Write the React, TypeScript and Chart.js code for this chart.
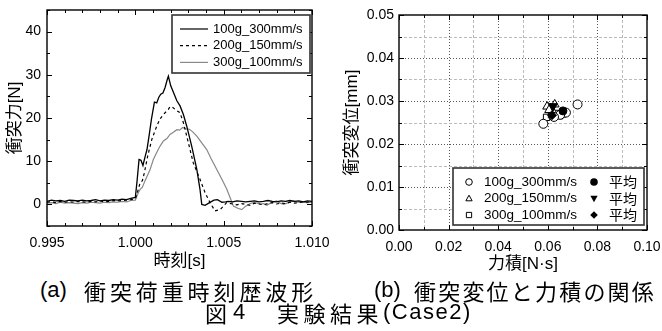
import React, { useEffect, useRef } from "react";
import { Chart, registerables } from "chart.js";

Chart.register(...registerables);

// ---------- (a) waveform data ----------
const t100 = [
  0.995, 0.99525, 0.9955, 0.99575, 0.996, 0.99625, 0.9965, 0.99675, 0.997, 0.99725,
  0.9975, 0.99775, 0.998, 0.99825, 0.9985, 0.99875, 0.999, 0.99925, 0.9995, 0.99975,
  1.0, 1.0001, 1.00021, 1.00032, 1.00043, 1.00055, 1.00066, 1.0008, 1.00091, 1.00108,
  1.00121, 1.00133, 1.00144, 1.00156, 1.00168, 1.0018, 1.00187, 1.002, 1.00216, 1.00235,
  1.00253, 1.00272, 1.00291, 1.00319, 1.00348, 1.00366, 1.00376, 1.00395, 1.0042, 1.00445,
  1.00465, 1.0049, 1.0051,
  1.00525, 1.0055, 1.00575, 1.006, 1.00625, 1.0065, 1.00675, 1.007, 1.00725, 1.0075,
  1.00775, 1.008, 1.00825, 1.0085, 1.00875, 1.009, 1.00925, 1.0095, 1.00975, 1.01,
];
const f100 = [
  0.7, 1.0, 0.8, 0.9, 0.7, 1.0, 0.9, 0.8, 1.0, 0.8,
  0.9, 1.1, 0.8, 1.0, 0.9, 1.1, 1.0, 1.2, 1.1, 1.4,
  1.6, 5.5, 10.4, 10.2, 9.0, 11.0, 12.7, 16.5, 19.7, 23.7,
  23.5, 24.8, 25.5, 25.8, 27.0, 28.8, 29.7, 27.5, 25.9, 24.0,
  22.8, 20.8, 18.1, 13.5, 8.1, 3.5, 0.0, -0.2, 0.4, 1.0,
  1.1, 0.5, 0.6,
  0.7, 0.6, 0.8, 0.7, 0.6, 0.7, 0.8, 0.6, 0.7, 0.9,
  0.7, 0.6, 0.8, 0.7, 0.9, 0.7, 0.8, 0.6, 0.8, 0.7,
];

const t200 = [
  0.995, 0.99525, 0.9955, 0.99575, 0.996, 0.99625, 0.9965, 0.99675, 0.997, 0.99725,
  0.9975, 0.99775, 0.998, 0.99825, 0.9985, 0.99875, 0.999, 0.99925, 0.9995, 0.99975,
  1.0, 1.0001, 1.00027, 1.0004, 1.00051, 1.0007, 1.00093, 1.00121, 1.0014, 1.00159,
  1.00175, 1.00187, 1.00196, 1.0021, 1.00225, 1.00253, 1.00272, 1.003, 1.00328, 1.00366,
  1.00395, 1.00423, 1.00451, 1.0048, 1.00517,
  1.0055, 1.00575, 1.006, 1.00625, 1.0065, 1.00675, 1.007, 1.00725, 1.0075, 1.00775,
  1.008, 1.00825, 1.0085, 1.00875, 1.009, 1.00925, 1.0095, 1.00975, 1.01,
];
const f200 = [
  0.5, 0.6, 0.4, 0.7, 0.5, 0.6, 0.5, 0.7, 0.6, 0.5,
  0.7, 0.6, 0.8, 0.6, 0.7, 0.9, 0.8, 0.9, 1.0, 1.1,
  1.3, 2.5, 5.0, 5.5, 7.3, 11.2, 15.0, 18.1, 19.8, 20.8,
  21.5, 22.0, 22.6, 22.5, 22.0, 21.2, 18.9, 14.3, 9.6, 5.8,
  2.7, 0.4, -1.5, -1.2, 0.4,
  0.1, -0.1, 0.2, 0.0, -0.2, 0.3, 0.1, -0.1, 0.2, 0.4,
  0.1, 0.3, 0.2, 0.5, 0.3, 0.4, 0.6, 0.5, 0.6,
];

const t300 = [
  0.995, 0.99525, 0.9955, 0.99575, 0.996, 0.99625, 0.9965, 0.99675, 0.997, 0.99725,
  0.9975, 0.99775, 0.998, 0.99825, 0.9985, 0.99875, 0.999, 0.99925, 0.9995, 0.99975,
  1.0, 1.00015, 1.00027, 1.0004, 1.00055, 1.00083, 1.00102, 1.00121, 1.0014, 1.00159,
  1.0018, 1.00196, 1.00215, 1.00235, 1.0025, 1.00268, 1.00285, 1.00306, 1.00325, 1.00348,
  1.00375, 1.00404, 1.0043, 1.00461, 1.0049, 1.00518, 1.0054, 1.00555, 1.0058, 1.00602,
  1.00625, 1.0065, 1.00668, 1.0069, 1.0071, 1.00725, 1.00744, 1.0077, 1.008, 1.0082,
  1.0084, 1.00865, 1.00895, 1.0092, 1.00945, 1.0097, 1.01,
];
const f300 = [
  0.3, 0.4, 0.2, 0.5, 0.3, 0.4, 0.3, 0.2, 0.4, 0.3,
  0.5, 0.4, 0.3, 0.5, 0.4, 0.6, 0.5, 0.7, 0.6, 0.9,
  1.0, 2.5, 3.5, 4.0, 5.5, 8.0, 10.4, 12.0, 13.5, 14.7,
  15.3, 16.2, 16.7, 17.3, 17.2, 17.8, 17.5, 17.4, 16.8, 15.8,
  14.3, 12.7, 10.5, 8.1, 5.8, 3.5, 1.2, -0.4, -0.9, -1.2,
  -0.4, 0.2, 0.4, 0.3, 0.1, 0.2, -0.2, 0.4, 0.8, 0.3,
  0.0, 0.4, 0.8, 0.5, 0.6, 0.4, 0.5,
];

const seriesLabelsA = ["100g_300mm/s", "200g_150mm/s", "300g_100mm/s"];
const xTicksA = [0.995, 1.0, 1.005, 1.01];
const yTicksA = [0, 10, 20, 30, 40];

// ---------- (b) scatter data ----------
const imp100 = [0.0582, 0.072, 0.0673, 0.065, 0.0625];
const disp100 = [0.0247, 0.0292, 0.0273, 0.0268, 0.0263];
const imp200 = [0.0597, 0.0628, 0.0612, 0.062, 0.0605];
const disp200 = [0.0287, 0.0292, 0.0283, 0.0276, 0.0279];
const imp300 = [0.0595, 0.0615, 0.0633, 0.0648, 0.066];
const disp300 = [0.0262, 0.0268, 0.0271, 0.0266, 0.027];
const meanImp = [0.0661, 0.0621, 0.0617];
const meanDisp = [0.0277, 0.0288, 0.0267];
const seriesLabelsB = ["100g_300mm/s", "200g_150mm/s", "300g_100mm/s"];
const meanLabel = "平均";
const xTicksB = [0, 0.02, 0.04, 0.06, 0.08, 0.1];
const yTicksB = [0, 0.01, 0.02, 0.03, 0.04, 0.05];

const LATIN = "'Liberation Sans', Arial, sans-serif";
const MIXED = "'Liberation Sans', 'Noto Sans CJK JP', sans-serif";

const pts = (xs: number[], ys: number[]) => xs.map((x, i) => ({ x, y: ys[i] }));

function drawSymbol(ctx: CanvasRenderingContext2D, kind: string, x: number, y: number, r: number, filled: boolean) {
  ctx.beginPath();
  if (kind === "circle") {
    ctx.arc(x, y, r, 0, Math.PI * 2);
  } else if (kind === "triUp") {
    ctx.moveTo(x, y - r);
    ctx.lineTo(x + r * 0.95, y + r * 0.7);
    ctx.lineTo(x - r * 0.95, y + r * 0.7);
    ctx.closePath();
  } else if (kind === "triDown") {
    ctx.moveTo(x, y + r);
    ctx.lineTo(x + r * 0.95, y - r * 0.7);
    ctx.lineTo(x - r * 0.95, y - r * 0.7);
    ctx.closePath();
  } else if (kind === "square") {
    ctx.rect(x - r * 0.8, y - r * 0.8, r * 1.6, r * 1.6);
  } else if (kind === "diamond") {
    ctx.moveTo(x, y - r);
    ctx.lineTo(x + r, y);
    ctx.lineTo(x, y + r);
    ctx.lineTo(x - r, y);
    ctx.closePath();
  }
  if (filled) {
    ctx.fillStyle = "#000";
    ctx.fill();
  } else {
    ctx.fillStyle = "#fff";
    ctx.fill();
    ctx.strokeStyle = "#000";
    ctx.lineWidth = 1;
    ctx.stroke();
  }
}

const zeroPadX = (h: number) => (s: any) => { s.height = h; s.paddingLeft = 0; s.paddingRight = 0; };
const zeroPadY = (w: number) => (s: any) => { s.width = w; s.paddingTop = 0; s.paddingBottom = 0; };

const decorA = {
  id: "decorA",
  afterDatasetsDraw(chart: any) {
    const { ctx, chartArea: a, scales } = chart;
    const x = scales.x;
    const y = scales.y;
    ctx.save();
    ctx.strokeStyle = "#000";
    ctx.lineWidth = 1;
    for (let i = 0; i <= 15; i++) {
      const v = 0.995 + i * 0.001;
      const px = Math.round(x.getPixelForValue(v)) + 0.5;
      const len = i % 5 === 0 ? 5 : 3;
      ctx.beginPath();
      ctx.moveTo(px, a.bottom);
      ctx.lineTo(px, a.bottom - len);
      ctx.moveTo(px, a.top);
      ctx.lineTo(px, a.top + len);
      ctx.stroke();
    }
    for (let i = 0; i <= 10; i++) {
      const v = -5 + i * 5;
      const py = Math.round(y.getPixelForValue(v)) + 0.5;
      const len = v % 10 === 0 ? 5 : 3;
      ctx.beginPath();
      ctx.moveTo(a.left, py);
      ctx.lineTo(a.left + len, py);
      ctx.moveTo(a.right, py);
      ctx.lineTo(a.right - len, py);
      ctx.stroke();
    }
    ctx.lineWidth = 1.4;
    ctx.strokeRect(a.left, a.top, a.right - a.left, a.bottom - a.top);
    // legend
    const lx = a.left + 125;
    const ly = a.top + 5;
    const lw = a.right - 2 - lx;
    const lh = 58;
    ctx.fillStyle = "#fff";
    ctx.fillRect(lx, ly, lw, lh);
    ctx.strokeStyle = "#333";
    ctx.lineWidth = 1.6;
    ctx.strokeRect(lx, ly, lw, lh);
    const styles = [
      { c: "#000", d: [] as number[] },
      { c: "#000", d: [3, 3] },
      { c: "#888", d: [] as number[] },
    ];
    ctx.font = `13px ${LATIN}`;
    ctx.textBaseline = "middle";
    seriesLabelsA.forEach((lab, i) => {
      const yy = ly + 14 + i * 16.7;
      ctx.beginPath();
      ctx.setLineDash(styles[i].d);
      ctx.strokeStyle = styles[i].c;
      ctx.lineWidth = 1.2;
      ctx.moveTo(lx + 8, yy);
      ctx.lineTo(lx + 36, yy);
      ctx.stroke();
      ctx.setLineDash([]);
      ctx.fillStyle = "#000";
      ctx.fillText(lab, lx + 41, yy);
    });
    ctx.restore();
  },
};

const gridB = {
  id: "gridB",
  beforeDatasetsDraw(chart: any) {
    const { ctx, chartArea: a, scales } = chart;
    const x = scales.x;
    const y = scales.y;
    ctx.save();
    ctx.lineWidth = 1;
    for (let i = 1; i < 10; i++) {
      const px = Math.round(x.getPixelForValue(i * 0.01)) + 0.5;
      const major = i % 2 === 0;
      ctx.strokeStyle = major ? "#555" : "#bbb";
      ctx.setLineDash(major ? [1, 2] : [3, 2]);
      ctx.beginPath();
      ctx.moveTo(px, a.top);
      ctx.lineTo(px, a.bottom);
      ctx.stroke();
    }
    for (let i = 1; i < 10; i++) {
      const py = Math.round(y.getPixelForValue(i * 0.005)) + 0.5;
      const major = i % 2 === 0;
      ctx.strokeStyle = major ? "#555" : "#bbb";
      ctx.setLineDash(major ? [1, 2] : [3, 2]);
      ctx.beginPath();
      ctx.moveTo(a.left, py);
      ctx.lineTo(a.right, py);
      ctx.stroke();
    }
    ctx.setLineDash([]);
    ctx.restore();
  },
  afterDatasetsDraw(chart: any) {
    const { ctx, chartArea: a, scales } = chart;
    const x = scales.x;
    const y = scales.y;
    ctx.save();
    ctx.strokeStyle = "#000";
    ctx.lineWidth = 1;
    for (let i = 0; i <= 10; i++) {
      const px = Math.round(x.getPixelForValue(i * 0.01)) + 0.5;
      const len = i % 2 === 0 ? 5 : 3;
      ctx.beginPath();
      ctx.moveTo(px, a.bottom);
      ctx.lineTo(px, a.bottom - len);
      ctx.moveTo(px, a.top);
      ctx.lineTo(px, a.top + len);
      ctx.stroke();
    }
    for (let i = 0; i <= 10; i++) {
      const py = Math.round(y.getPixelForValue(i * 0.005)) + 0.5;
      const len = i % 2 === 0 ? 5 : 3;
      ctx.beginPath();
      ctx.moveTo(a.left, py);
      ctx.lineTo(a.left + len, py);
      ctx.moveTo(a.right, py);
      ctx.lineTo(a.right - len, py);
      ctx.stroke();
    }
    // legend
    const lx = a.left + 54;
    const ly = a.top + 153;
    const lw = a.right - 3 - lx;
    const lh = a.bottom - 5 - ly;
    ctx.fillStyle = "#fff";
    ctx.fillRect(lx, ly, lw, lh);
    ctx.strokeStyle = "#333";
    ctx.lineWidth = 1.6;
    ctx.strokeRect(lx, ly, lw, lh);
    const openK = ["circle", "triUp", "square"];
    const fillK = ["circle", "triDown", "diamond"];
    ctx.textBaseline = "middle";
    seriesLabelsB.forEach((lab, i) => {
      const yy = ly + 14 + i * 16.5;
      drawSymbol(ctx, openK[i], lx + 16, yy, 3.3, false);
      ctx.fillStyle = "#000";
      ctx.font = `13.5px ${LATIN}`;
      ctx.fillText(lab, lx + 31, yy);
      drawSymbol(ctx, fillK[i], lx + 141, yy, 3.8, true);
      ctx.fillStyle = "#000";
      ctx.font = `14px 'Noto Sans CJK JP', sans-serif`;
      ctx.fillText(meanLabel, lx + 156, yy);
    });
    ctx.strokeStyle = "#000";
    ctx.lineWidth = 1.4;
    ctx.strokeRect(a.left, a.top, a.right - a.left, a.bottom - a.top);
    ctx.restore();
  },
};

function ChartA() {
  const ref = useRef<HTMLCanvasElement>(null);
  useEffect(() => {
    if (!ref.current) return;
    const chart = new Chart(ref.current, {
      type: "line",
      data: {
        datasets: [
          { label: seriesLabelsA[0], data: pts(t100, f100), borderColor: "#000", borderWidth: 1.3, pointRadius: 0, tension: 0 },
          { label: seriesLabelsA[1], data: pts(t200, f200), borderColor: "#000", borderWidth: 1.2, borderDash: [3, 3], pointRadius: 0, tension: 0 },
          { label: seriesLabelsA[2], data: pts(t300, f300), borderColor: "#888", borderWidth: 1.2, pointRadius: 0, tension: 0 },
        ],
      },
      options: {
        animation: false,
        responsive: false,
        maintainAspectRatio: false,
        layout: { padding: { top: 10, right: 19, left: 0, bottom: 0 } },
        plugins: { legend: { display: false }, tooltip: { enabled: false } },
        scales: {
          x: {
            type: "linear",
            min: 0.995,
            max: 1.01,
            afterBuildTicks: (s: any) => { s.ticks = xTicksA.map((v) => ({ value: v })); },
            afterFit: zeroPadX(48),
            grid: { display: false, drawTicks: false },
            border: { display: false },
            ticks: {
              autoSkip: false, maxRotation: 0, padding: 9, color: "#000",
              font: { size: 14, family: LATIN },
              callback: (v: any) => Number(v).toFixed(3),
            },
            title: { display: true, text: "時刻[s]", color: "#000", font: { size: 17, family: MIXED }, padding: { top: 0, bottom: 2.3 } },
          },
          y: {
            type: "linear",
            min: -5,
            max: 45,
            afterBuildTicks: (s: any) => { s.ticks = yTicksA.map((v) => ({ value: v })); },
            afterFit: zeroPadY(47),
            grid: { display: false, drawTicks: false },
            border: { display: false },
            ticks: { padding: 6, color: "#000", font: { size: 14, family: LATIN }, callback: (v: any) => String(v) },
            title: { display: true, text: "衝突力[N]", color: "#000", font: { size: 17, family: MIXED }, padding: { top: 5.3, bottom: 0 } },
          },
        },
      },
      plugins: [decorA],
    } as any);
    return () => chart.destroy();
  }, []);
  return <canvas ref={ref} width={331} height={274} style={{ position: "absolute", left: 0, top: 0, width: 331, height: 274 }} />;
}

function ChartB() {
  const ref = useRef<HTMLCanvasElement>(null);
  useEffect(() => {
    if (!ref.current) return;
    const base = { borderColor: "#000", borderWidth: 1 };
    const chart = new Chart(ref.current, {
      type: "scatter",
      data: {
        datasets: [
          { ...base, label: meanLabel, data: [{ x: meanImp[0], y: meanDisp[0] }], pointStyle: "circle", pointRadius: 4, backgroundColor: "#000" },
          { ...base, label: meanLabel, data: [{ x: meanImp[1], y: meanDisp[1] }], pointStyle: "triangle", rotation: 180, pointRadius: 5, backgroundColor: "#000" },
          { ...base, label: meanLabel, data: [{ x: meanImp[2], y: meanDisp[2] }], pointStyle: "rectRot", pointRadius: 4.5, backgroundColor: "#000" },
          { ...base, label: seriesLabelsB[0], data: pts(imp100, disp100), pointStyle: "circle", pointRadius: 4.5, backgroundColor: "#fff" },
          { ...base, label: seriesLabelsB[1], data: pts(imp200, disp200), pointStyle: "triangle", pointRadius: 5, backgroundColor: "#fff" },
          { ...base, label: seriesLabelsB[2], data: pts(imp300, disp300), pointStyle: "rect", pointRadius: 4.5, backgroundColor: "#fff" },
        ],
      },
      options: {
        animation: false,
        responsive: false,
        maintainAspectRatio: false,
        layout: { padding: { top: 15, right: 15, left: 0, bottom: 0 } },
        plugins: { legend: { display: false }, tooltip: { enabled: false } },
        scales: {
          x: {
            type: "linear",
            min: 0,
            max: 0.1,
            afterBuildTicks: (s: any) => { s.ticks = xTicksB.map((v) => ({ value: v })); },
            afterFit: zeroPadX(48),
            grid: { display: false, drawTicks: false },
            border: { display: false },
            ticks: {
              autoSkip: false, maxRotation: 0, padding: 9, color: "#000",
              font: { size: 14, family: LATIN },
              callback: (v: any) => Number(v).toFixed(2),
            },
            title: { display: true, text: "力積[N·s]", color: "#000", font: { size: 17, family: MIXED }, padding: { top: 0, bottom: 3.3 } },
          },
          y: {
            type: "linear",
            min: 0,
            max: 0.05,
            afterBuildTicks: (s: any) => { s.ticks = yTicksB.map((v) => ({ value: v })); },
            afterFit: zeroPadY(68),
            grid: { display: false, drawTicks: false },
            border: { display: false },
            ticks: { padding: 5, color: "#000", font: { size: 14, family: LATIN }, callback: (v: any) => Number(v).toFixed(2) },
            title: { display: true, text: "衝突変位[mm]", color: "#000", font: { size: 17, family: MIXED }, padding: { top: 11.3, bottom: 0 } },
          },
        },
      },
      plugins: [gridB],
    } as any);
    return () => chart.destroy();
  }, []);
  return <canvas ref={ref} width={331} height={278} style={{ position: "absolute", left: 331, top: 0, width: 331, height: 278 }} />;
}

const capBase: React.CSSProperties = {
  position: "absolute",
  fontSize: 22,
  lineHeight: "22px",
  whiteSpace: "nowrap",
  color: "#000",
  fontFamily: "'Liberation Sans', 'Noto Sans CJK JP', sans-serif",
};
const cjk: React.CSSProperties = { ...capBase, fontFamily: "'Noto Sans CJK JP', sans-serif" };

export default function App() {
  return (
    <div style={{ position: "absolute", left: 0, top: 0, width: 662, height: 331, background: "#fff", overflow: "hidden" }}>
      <ChartA />
      <ChartB />
      <div style={{ ...capBase, left: 40, top: 279 }}>(a)</div>
      <div style={{ ...cjk, left: 84, top: 279, letterSpacing: 3.9 }}>衝突荷重時刻歴波形</div>
      <div style={{ ...capBase, left: 374, top: 279 }}>(b)</div>
      <div style={{ ...cjk, left: 414, top: 279, letterSpacing: 2.2 }}>衝突変位と力積の関係</div>
      <div style={{ ...cjk, left: 205, top: 301 }}>図</div>
      <div style={{ ...capBase, left: 233, top: 301 }}>4</div>
      <div style={{ ...cjk, left: 277, top: 301, letterSpacing: 4.5 }}>実験結果</div>
      <div style={{ ...capBase, left: 383, top: 301, letterSpacing: 1.5 }}>(Case2)</div>
    </div>
  );
}
